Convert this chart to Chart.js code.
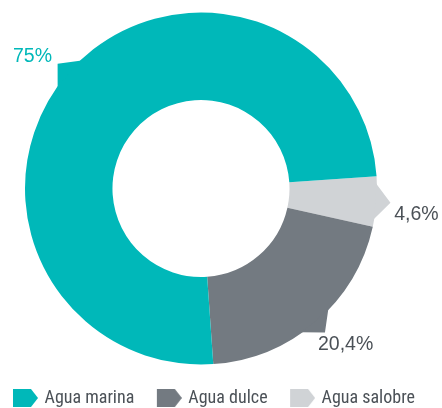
<!DOCTYPE html>
<html>
<head>
<meta charset="utf-8">
<script src="https://cdn.jsdelivr.net/npm/chart.js@4.4.0/dist/chart.umd.min.js"></script>
<style>
  html, body { margin: 0; padding: 0; background: #fff; }
</style>
</head>
<body>
<canvas id="myChart" width="442" height="408"></canvas>
<script>
// Tipos de agua, en el orden de la leyenda
const categories = ["Agua marina", "Agua dulce", "Agua salobre"];
const shares = [75, 20.4, 4.6];
const sliceColors = ["#00b8b9", "#737a81", "#d0d3d6"];
const valueLabelColors = ["#00b8b9", "#4b5157", "#4b5157"];
// small hand nudges (px) of each percentage label off its radial spot
const valueLabelNudge = [[-7, 9], [5, -6], [2, 10]];

// the ring is drawn clockwise salobre -> dulce -> marina, legend goes the other way
const drawOrder = categories.map((_, i) => categories.length - 1 - i);

function formatShare(v) {
  return String(v).replace(".", ",") + "%";
}

// arrow-shaped legend marker; the canvas is padded so the arrow ends just before the text
function makeMarker(color) {
  const c = document.createElement("canvas");
  c.width = 38;
  c.height = 18;
  const g = c.getContext("2d");
  g.fillStyle = color;
  g.beginPath();
  g.moveTo(13, 0);
  g.lineTo(31, 0);
  g.lineTo(38, 9);
  g.lineTo(31, 18);
  g.lineTo(13, 18);
  g.closePath();
  g.fill();
  return c;
}

// small pointer on each slice plus its percentage
const sliceCallouts = {
  id: "sliceCallouts",
  afterDatasetsDraw(chart) {
    const ctx = chart.ctx;
    const meta = chart.getDatasetMeta(0);
    meta.data.forEach((arc, j) => {
      const { x, y, startAngle, endAngle, outerRadius } = arc.getProps(
        ["x", "y", "startAngle", "endAngle", "outerRadius"], true);
      const mid = (startAngle + endAngle) / 2;
      const half = 6 * Math.PI / 180;
      const tip = outerRadius + 14;
      ctx.save();
      ctx.fillStyle = arc.options.backgroundColor;
      ctx.beginPath();
      ctx.moveTo(x + Math.cos(mid) * tip, y + Math.sin(mid) * tip);
      ctx.arc(x, y, outerRadius - 1, mid + half, mid - half, true);
      ctx.closePath();
      ctx.fill();

      const i = drawOrder[j];
      const r = outerRadius + 38;
      const [dx, dy] = valueLabelNudge[i];
      ctx.fillStyle = valueLabelColors[i];
      ctx.font = '19.5px "Liberation Sans", Arial, sans-serif';
      ctx.textAlign = "center";
      ctx.textBaseline = "middle";
      ctx.fillText(formatShare(shares[i]),
        x + Math.cos(mid) * r + dx, y + Math.sin(mid) * r + dy);
      ctx.restore();
    });
  }
};

const ctx = document.getElementById("myChart").getContext("2d");
const myChart = new Chart(ctx, {
  type: "doughnut",
  data: {
    labels: drawOrder.map(i => categories[i]),
    datasets: [{
      data: drawOrder.map(i => shares[i]),
      backgroundColor: drawOrder.map(i => sliceColors[i]),
      borderWidth: 0
    }]
  },
  options: {
    responsive: false,
    animation: false,
    events: [],
    rotation: 86,
    radius: 176,
    cutout: "50.3%",
    layout: { padding: { left: -9.5, right: 0, top: 0, bottom: -9 } },
    plugins: {
      tooltip: { enabled: false },
      // empty title on the right only reserves room so the ring sits left of centre
      title: {
        display: true,
        text: " ",
        position: "right",
        fullSize: false,
        font: { size: 10, lineHeight: 1 },
        padding: { top: 15, bottom: 15 }
      },
      legend: {
        position: "bottom",
        align: "start",
        labels: {
          usePointStyle: true,
          pointStyleWidth: 33,
          padding: 12,
          color: "#4b5157",
          font: { family: '"Roboto Condensed", "Liberation Sans", Arial, sans-serif', size: 18 },
          generateLabels: () => categories.map((name, i) => ({
            text: name,
            fillStyle: sliceColors[i],
            strokeStyle: sliceColors[i],
            lineWidth: 0,
            fontColor: "#4b5157",
            pointStyle: makeMarker(sliceColors[i]),
            hidden: false,
            index: drawOrder[i]
          }))
        }
      }
    }
  },
  plugins: [sliceCallouts]
});
</script>
</body>
</html>
